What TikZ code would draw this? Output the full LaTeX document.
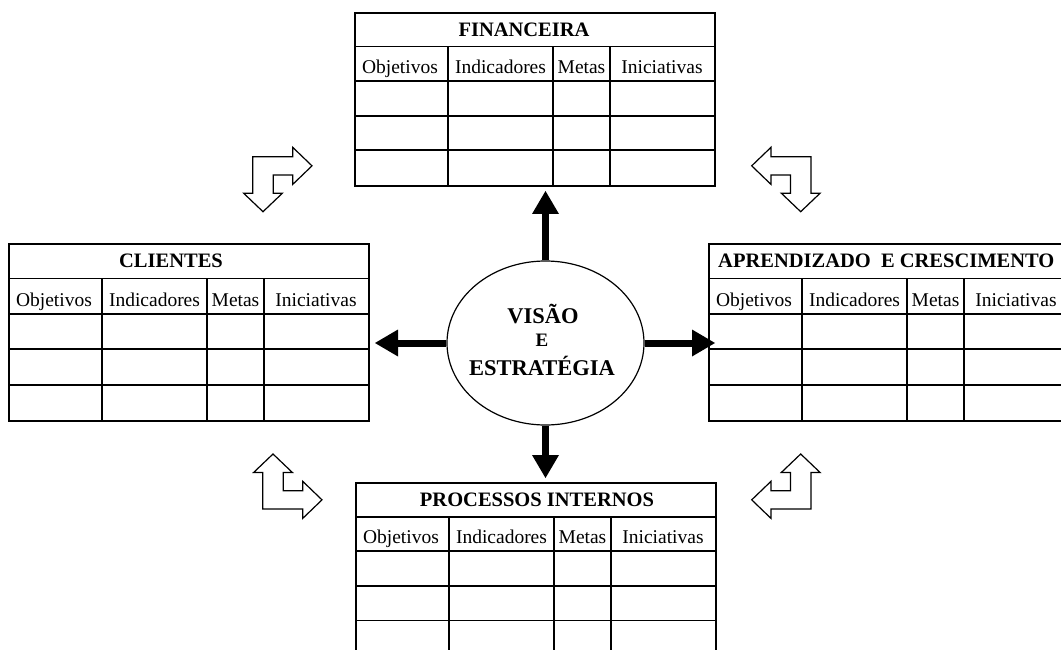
\documentclass[tikz,border=0pt]{standalone}
\usepackage{fontspec}
\setmainfont{Liberation Serif}
\usetikzlibrary{arrows.meta,shapes.geometric}

\tikzset{
  tableline/.style={line width=1.8pt},
  tablebox/.style={draw, line width=1.8pt, minimum width=360pt, inner sep=0pt, anchor=north west},
  titletext/.style={font=\bfseries\fontsize{20.5}{22}\selectfont, inner sep=0pt},
  headtext/.style={font=\fontsize{19.5}{21}\selectfont, inner sep=0pt, anchor=base},
  vision/.style={draw, ellipse, line width=1.2pt, minimum width=197pt, minimum height=164pt, inner sep=0pt},
  visiontext/.style={font=\bfseries\fontsize{22.5}{25}\selectfont, inner sep=0pt, anchor=base},
  smallvisiontext/.style={font=\bfseries\fontsize{19}{21}\selectfont, inner sep=0pt, anchor=base},
  thickarrow/.style={line width=7pt, -{Triangle[width=27pt,length=23pt,line width=0pt]}},
  bentline/.style={draw, fill=white, line width=1.2pt, line join=miter},
  bentarrow/.pic={
    \path[bentline] (0,0) -- (40,0) -- (40,-9.4) -- (59.3,9.15) -- (40,27.7)
      -- (40,18.3) -- (20.6,18.3) -- (20.6,36.6) -- (29.6,36.6) -- (10.3,55)
      -- (-9,36.6) -- (0,36.6) -- cycle;
  }
}

% #1 name, #2 left, #3 top, #4 height, #5 title x, #6 title anchor, #7 title
\newcommand\bsctable[7]{%
  \pgfmathsetmacro\rowh{#4/5}%
  \begin{scope}[shift={(#2,#3)}]
    \node[tablebox, minimum height=#4pt] (#1) at (0,0) {};
    \foreach \k in {1,2,3,4} {\draw[tableline] (0,\k*\rowh) -- (360,\k*\rowh);}
    \foreach \c in {94,199,256} {\draw[tableline] (\c,\rowh) -- (\c,#4);}
    \node[titletext, anchor=#6] (#1-title) at (#5,0.5*\rowh+7) {#7};
    \node[headtext] (#1-obj) at (46,1.5*\rowh+10) {Objetivos};
    \node[headtext] (#1-ind) at (146.5,1.5*\rowh+10) {Indicadores};
    \node[headtext] (#1-met) at (227.5,1.5*\rowh+10) {Metas};
    \node[headtext] (#1-ini) at (308,1.5*\rowh+10) {Iniciativas};
  \end{scope}}

\begin{document}
\begin{tikzpicture}[x=1pt, y=-1pt]
  \useasboundingbox (0,0) rectangle (1061,650);

  % the four perspective tables
  \bsctable{fin}{354}{12}{173}{170}{base}{FINANCEIRA}
  \bsctable{cli}{8}{243}{177}{163}{base}{CLIENTES}
  \bsctable{apr}{708}{243}{177}{10}{base west}{APRENDIZADO\ \ E CRESCIMENTO}
  \bsctable{pro}{355}{482}{173}{182}{base}{PROCESSOS INTERNOS}

  % vision and strategy at the centre
  \node[vision] (vis) at (545.5,343) {};
  \node[visiontext] (vis-a) at (543,323) {VISÃO};
  \node[smallvisiontext] (vis-b) at (542,346) {E};
  \node[visiontext] (vis-c) at (542,375) {ESTRATÉGIA};

  % arrows from the centre to each perspective
  \coordinate (fintip) at (545.5,191);
  \coordinate (clitip) at (375,343);
  \coordinate (aprtip) at (715,343);
  \coordinate (protip) at (545.5,478);
  \draw[thickarrow] (vis.north) -- (fintip);
  \draw[thickarrow] (vis.west) -- (clitip);
  \draw[thickarrow] (vis.east) -- (aprtip);
  \draw[thickarrow] (vis.south) -- (protip);

  % outlined corner arrows between the perspectives
  \pic at (252.7,156.7) {bentarrow};
  \pic[xscale=-1] at (811,156.7) {bentarrow};
  \pic[yscale=-1] at (262.7,509) {bentarrow};
  \pic[xscale=-1,yscale=-1] at (811,509) {bentarrow};
\end{tikzpicture}
\end{document}
